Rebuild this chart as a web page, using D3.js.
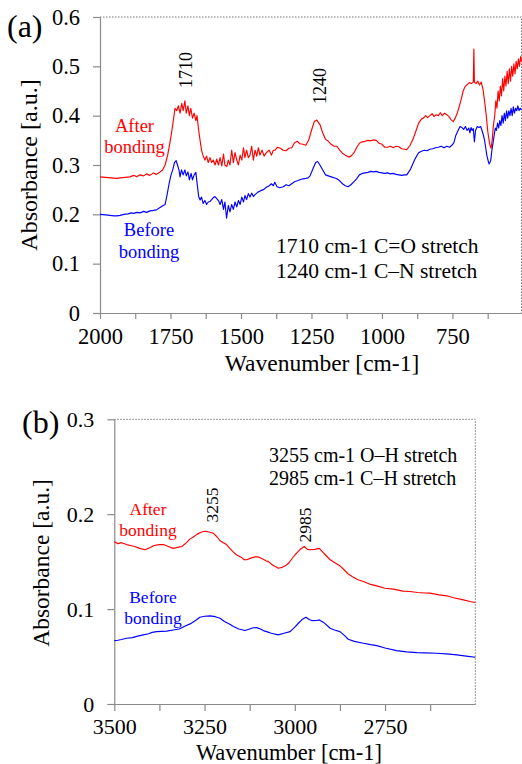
<!DOCTYPE html>
<html><head><meta charset="utf-8">
<script src="https://cdn.jsdelivr.net/npm/d3@7"></script>
<style>
html,body{margin:0;padding:0;background:#fff;}
svg{display:block;font-family:"Liberation Serif","Times New Roman",serif;}
</style></head>
<body><svg id="c" width="522" height="764"></svg>
<script>
// ---------- DATA ----------
// Panel (a): mid-IR region, [wavenumber cm-1, absorbance]
const aAfter = [[2000,.276],[1980,.275],[1960,.274],[1940,.273],[1929,.274],[1910,.275],[1894,.276],[1880,.279],[1870,.276],[1858,.280],[1845,.278],[1835,.282],[1823,.279],[1810,.284],[1800,.281],[1787,.286],[1778,.29],[1769,.30],[1760,.32],[1752,.345],[1745,.37],[1740,.39],[1734,.415],[1728,.41],[1722,.42],[1716,.405],[1710,.425],[1705,.41],[1699,.43],[1694,.405],[1688,.42],[1683,.40],[1678,.415],[1672,.395],[1666,.405],[1660,.39],[1656,.40],[1650,.37],[1645,.35],[1640,.33],[1635,.32],[1628,.31],[1622,.318],[1616,.305],[1610,.315],[1604,.305],[1598,.31],[1592,.30],[1586,.312],[1580,.30],[1574,.315],[1568,.298],[1562,.322],[1557,.30],[1550,.297],[1545,.31],[1539,.30],[1533,.33],[1527,.305],[1521,.325],[1515,.31],[1509,.30],[1503,.32],[1497,.31],[1491,.335],[1486,.315],[1480,.33],[1474,.315],[1468,.32],[1462,.338],[1456,.31],[1450,.33],[1444,.318],[1438,.335],[1433,.32],[1425,.33],[1418,.318],[1410,.325],[1400,.33],[1392,.32],[1385,.33],[1379,.33],[1370,.336],[1360,.334],[1350,.33],[1340,.329],[1330,.334],[1320,.335],[1310,.345],[1300,.348],[1291,.343],[1280,.342],[1270,.34],[1260,.350],[1250,.37],[1240,.388],[1231,.391],[1220,.382],[1210,.365],[1200,.352],[1190,.348],[1180,.342],[1170,.338],[1160,.338],[1150,.33],[1140,.324],[1130,.32],[1118,.316],[1110,.318],[1100,.324],[1090,.335],[1080,.344],[1070,.347],[1060,.348],[1050,.35],[1040,.349],[1030,.351],[1020,.35],[1010,.344],[1000,.342],[990,.336],[980,.336],[970,.338],[960,.335],[950,.338],[940,.337],[930,.333],[920,.332],[912,.331],[900,.34],[890,.352],[880,.368],[870,.385],[860,.393],[853,.395],[845,.40],[838,.396],[830,.40],[822,.404],[815,.398],[808,.402],[800,.40],[793,.406],[786,.40],[778,.405],[770,.402],[762,.398],[755,.392],[747,.388],[740,.395],[733,.405],[726,.418],[718,.435],[712,.45],[705,.459],[698,.463],[690,.467],[683,.465],[676,.468],[674,.535],[672,.468],[666,.465],[660,.47],[654,.462],[648,.468],[642,.455],[636,.43],[630,.40],[625,.37],[620,.35],[616,.338],[613,.334],[609,.35],[605,.378],[600,.40],[596,.43],[592,.415],[588,.45],[584,.43],[580,.46],[576,.44],[572,.475],[568,.45],[564,.48],[560,.46],[556,.49],[552,.465],[548,.495],[544,.47],[540,.50],[536,.48],[532,.505],[528,.485],[524,.51],[520,.495],[516,.515],[512,.50],[508,.52],[505,.51]];
const aBefore = [[2000,.20],[1980,.199],[1965,.198],[1950,.197],[1940,.197],[1929,.198],[1915,.200],[1900,.201],[1890,.203],[1880,.202],[1870,.204],[1858,.203],[1845,.206],[1835,.204],[1823,.207],[1810,.208],[1800,.209],[1787,.214],[1776,.218],[1769,.22],[1762,.24],[1755,.262],[1748,.28],[1742,.29],[1736,.305],[1730,.309],[1725,.30],[1720,.29],[1716,.276],[1711,.29],[1705,.28],[1699,.29],[1694,.278],[1688,.286],[1683,.27],[1677,.283],[1672,.27],[1666,.28],[1660,.285],[1655,.26],[1650,.236],[1645,.229],[1640,.235],[1634,.222],[1628,.228],[1622,.22],[1616,.225],[1610,.226],[1604,.23],[1598,.234],[1592,.236],[1586,.232],[1580,.228],[1574,.22],[1568,.23],[1562,.21],[1557,.225],[1551,.192],[1545,.218],[1539,.205],[1533,.22],[1527,.21],[1521,.225],[1515,.215],[1509,.228],[1503,.22],[1497,.235],[1491,.225],[1486,.238],[1480,.23],[1474,.242],[1468,.235],[1462,.243],[1456,.236],[1450,.24],[1440,.245],[1430,.248],[1420,.25],[1410,.255],[1400,.258],[1392,.262],[1385,.258],[1380,.265],[1372,.256],[1362,.254],[1350,.256],[1340,.26],[1330,.258],[1320,.262],[1310,.266],[1300,.268],[1291,.27],[1280,.272],[1270,.273],[1262,.274],[1255,.278],[1245,.292],[1235,.305],[1228,.307],[1220,.30],[1210,.29],[1200,.28],[1190,.278],[1180,.276],[1170,.274],[1160,.272],[1150,.268],[1140,.262],[1130,.258],[1120,.256],[1110,.26],[1100,.266],[1090,.272],[1080,.28],[1070,.283],[1060,.284],[1050,.285],[1040,.287],[1030,.286],[1020,.287],[1010,.285],[1000,.284],[990,.283],[980,.284],[970,.282],[960,.283],[950,.281],[940,.28],[930,.279],[920,.28],[912,.28],[900,.29],[890,.303],[880,.315],[870,.325],[860,.328],[850,.33],[840,.329],[830,.332],[820,.333],[810,.335],[800,.336],[790,.338],[780,.335],[770,.338],[760,.336],[752,.34],[745,.345],[738,.36],[730,.37],[723,.378],[716,.376],[710,.372],[704,.378],[698,.37],[692,.375],[688,.365],[684,.376],[680,.37],[676,.374],[672,.347],[668,.37],[662,.378],[656,.376],[650,.378],[645,.37],[640,.36],[636,.35],[632,.335],[628,.32],[624,.31],[620,.302],[617,.305],[614,.31],[610,.33],[606,.345],[602,.36],[598,.375],[594,.37],[590,.385],[586,.375],[582,.39],[578,.38],[574,.40],[570,.385],[566,.405],[562,.39],[558,.41],[554,.395],[550,.41],[546,.40],[542,.415],[538,.40],[534,.418],[530,.405],[526,.415],[522,.41],[518,.42],[514,.41],[510,.415],[505,.412]];
// Panel (b): high-wavenumber region
const bAfter = [[3500,.171],[3490,.169],[3480,.170],[3466,.168],[3455,.167],[3443,.166],[3430,.164],[3415,.1625],[3400,.165],[3390,.167],[3375,.168],[3364,.168],[3350,.166],[3337,.164],[3325,.165],[3313,.166],[3300,.170],[3290,.174],[3281,.176],[3270,.179],[3260,.181],[3250,.182],[3244,.1818],[3235,.181],[3226,.18],[3215,.176],[3207,.172],[3198,.170],[3189,.168],[3180,.164],[3170,.160],[3161,.157],[3150,.155],[3140,.152],[3133,.152],[3120,.154],[3110,.155],[3101,.155],[3090,.153],[3080,.151],[3073,.150],[3060,.146],[3050,.144],[3046,.143],[3035,.144],[3025,.146],[3018,.148],[3010,.152],[3000,.157],[2995,.159],[2985,.163],[2974,.166],[2965,.163],[2958,.1625],[2945,.163],[2932,.164],[2925,.161],[2915,.157],[2902,.152],[2890,.149],[2875,.1456],[2865,.142],[2852,.137],[2840,.134],[2825,.131],[2810,.129],[2790,.126],[2773,.1245],[2750,.122],[2727,.121],[2700,.119],[2681,.1185],[2660,.1175],[2640,.117],[2625,.1168],[2600,.115],[2579,.114],[2560,.112],[2533,.1097],[2515,.108],[2500,.107]];
const bBefore = [[3500,.0668],[3490,.0672],[3480,.068],[3466,.0693],[3450,.070],[3435,.0715],[3420,.0728],[3405,.074],[3395,.0755],[3383,.0763],[3370,.0765],[3355,.0768],[3337,.078],[3320,.079],[3305,.082],[3290,.0844],[3275,.088],[3263,.0914],[3250,.0925],[3235,.0928],[3220,.092],[3207,.0904],[3195,.087],[3180,.084],[3170,.0816],[3155,.079],[3138,.0774],[3125,.079],[3115,.0803],[3106,.0805],[3095,.079],[3085,.077],[3078,.0763],[3065,.0745],[3046,.0728],[3030,.0745],[3013,.0763],[3000,.081],[2990,.0851],[2980,.089],[2969,.0914],[2960,.089],[2953,.0879],[2940,.088],[2932,.0886],[2920,.086],[2902,.0798],[2890,.078],[2875,.0763],[2862,.072],[2852,.0682],[2835,.066],[2810,.064],[2790,.0625],[2773,.0615],[2750,.059],[2718,.0562],[2690,.055],[2662,.0541],[2640,.0538],[2607,.0535],[2580,.0528],[2551,.0517],[2525,.0505],[2500,.0493]];

const aXTicks = [2000,1875,1750,1625,1500,1375,1250,1125,1000,875,750,625];
const aXLabels = [2000,1750,1500,1250,1000,750];
const aYTicks = [0,0.1,0.2,0.3,0.4,0.5,0.6];
const bXTicks = [3500,3375,3250,3125,3000,2875,2750,2625];
const bXLabels = [3500,3250,3000,2750];
const bYTicks = [0,0.1,0.2,0.3];

// ---------- DRAW ----------
const svg = d3.select("#c");
const FONT = '"Liberation Serif","Times New Roman",serif';
const AXC = "#8a8a8a";

function panel(o){
  const x = d3.scaleLinear().domain(o.xDom).range([o.l, o.r]);
  const y = d3.scaleLinear().domain(o.yDom).range([o.b, o.t]);
  const g = svg.append("g");
  g.append("path").attr("d", `M${o.l},${o.t}H${o.r}V${o.b}`)
    .attr("fill","none").attr("stroke","#777").attr("stroke-width",1)
    .attr("stroke-dasharray","1.5,1.5");
  const fmtY = d => d === 0 ? "0" : d.toFixed(1);
  const yAx = g.append("g").attr("transform",`translate(${o.l},0)`)
    .call(d3.axisLeft(y).tickValues(o.yTicks).tickFormat(fmtY)
      .tickSize(7).tickSizeOuter(0).tickPadding(13));
  const xAx = g.append("g").attr("transform",`translate(0,${o.b})`)
    .call(d3.axisBottom(x).tickValues(o.xTicks)
      .tickFormat(d => o.xLabels.includes(d) ? d : "")
      .tickSize(o.xTickSize).tickSizeOuter(0).tickPadding(o.xPad));
  [yAx,xAx].forEach(a=>{
    a.selectAll("path.domain").attr("stroke",AXC).attr("stroke-width",1.2);
    a.selectAll(".tick line").attr("stroke",AXC).attr("stroke-width",1.2);
    a.selectAll(".tick text").attr("fill","#000").attr("font-family",FONT)
      .attr("font-size",o.tickFs);
  });
  const line = d3.line().x(d=>x(d[0])).y(d=>y(d[1]));
  g.append("path").datum(o.before).attr("d",line).attr("fill","none")
    .attr("stroke","#0000ff").attr("stroke-width",1.15).attr("stroke-linejoin","round");
  g.append("path").datum(o.after).attr("d",line).attr("fill","none")
    .attr("stroke","#ff0000").attr("stroke-width",1.15).attr("stroke-linejoin","round");
  return g;
}

function txt(g, s, x, y, fs, opts={}){
  const t = g.append("text").attr("x",x).attr("y",y).text(s)
    .attr("font-family",FONT).attr("font-size",fs)
    .attr("fill",opts.fill||"#000").attr("text-anchor",opts.anchor||"start");
  if(opts.rot) t.attr("transform",`rotate(-90,${x},${y})`);
  return t;
}

// Panel (a)
const ga = panel({xDom:[2000,505], yDom:[0,0.6], l:100, r:521.5, t:17, b:313,
  xTicks:aXTicks, xLabels:aXLabels, yTicks:aYTicks, xTickSize:6, xPad:9, tickFs:22.5,
  after:aAfter, before:aBefore});
txt(ga,"(a)",7,37,32);
txt(ga,"Absorbance  [a.u.]",37,165,24,{anchor:"middle",rot:true});
txt(ga,"Wavenumber [cm-1]",322,371,23.5,{anchor:"middle"});
txt(ga,"1710",192,70,18,{anchor:"middle",rot:true});
txt(ga,"1240",325.5,86,18,{anchor:"middle",rot:true});
txt(ga,"After",134.5,132,18.5,{anchor:"middle",fill:"#ff0000"});
txt(ga,"bonding",134.5,153,18.5,{anchor:"middle",fill:"#ff0000"});
txt(ga,"Before",149,236,18.5,{anchor:"middle",fill:"#0000ff"});
txt(ga,"bonding",149,257.5,18.5,{anchor:"middle",fill:"#0000ff"});
txt(ga,"1710 cm-1 C=O stretch",276,253,21.5);
txt(ga,"1240 cm-1 C\u2013N stretch",276,278,21.5);

// Panel (b)
const gb = panel({xDom:[3500,2500], yDom:[0,0.3], l:114.3, r:475.3, t:419.3, b:704,
  xTicks:bXTicks, xLabels:bXLabels, yTicks:bYTicks, xTickSize:7, xPad:7, tickFs:22,
  after:bAfter, before:bBefore});
txt(gb,"(b)",22,433,32);
txt(gb,"Absorbance  [a.u.]",49,563,23.5,{anchor:"middle",rot:true});
txt(gb,"Wavenumber [cm-1]",289,759.5,22.5,{anchor:"middle"});
txt(gb,"3255",218,505,17.5,{anchor:"middle",rot:true});
txt(gb,"2985",311,525,17.5,{anchor:"middle",rot:true});
txt(gb,"After",148,515,17.5,{anchor:"middle",fill:"#ff0000"});
txt(gb,"bonding",148,535.5,17.5,{anchor:"middle",fill:"#ff0000"});
txt(gb,"Before",153,603,17.5,{anchor:"middle",fill:"#0000ff"});
txt(gb,"bonding",153,623.5,17.5,{anchor:"middle",fill:"#0000ff"});
txt(gb,"3255 cm-1 O\u2013H stretch",269,461.5,20);
txt(gb,"2985 cm-1 C\u2013H stretch",269,485,20);
</script></body></html>
